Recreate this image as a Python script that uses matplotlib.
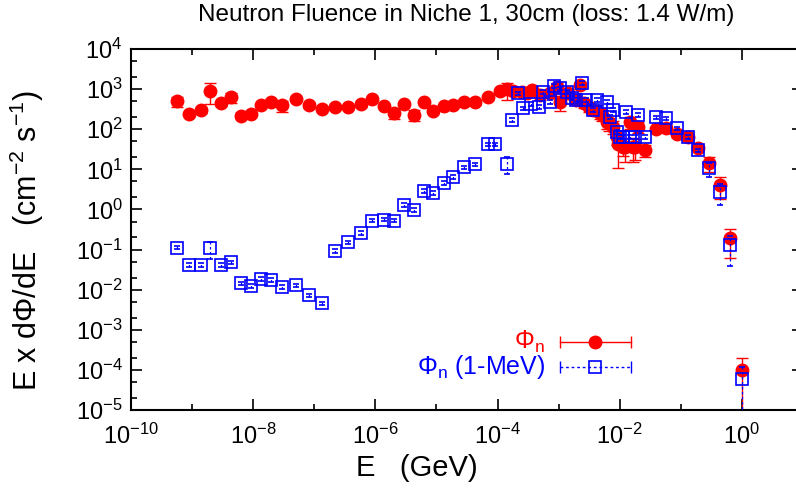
import numpy as np
import matplotlib
matplotlib.use("Agg")
import matplotlib.pyplot as plt
from matplotlib import ticker

plt.rcParams['font.family'] = ['Liberation Sans', 'DejaVu Sans']

# red: neutron fluence (E in GeV, E*dPhi/dE in cm^-2 s^-1)
red_E = [5.6e-10, 8.9e-10, 1.4e-9, 2.0e-9, 3.0e-9, 4.4e-9, 6.3e-9, 9.1e-9, 1.35e-8, 1.95e-8,
         3.0e-8, 5.0e-8, 8.3e-8, 1.35e-7, 2.2e-7, 3.6e-7, 5.8e-7, 8.9e-7, 1.38e-6, 2.0e-6,
         2.9e-6, 4.3e-6, 6.2e-6, 8.9e-6, 1.32e-5, 1.9e-5, 2.8e-5, 4.3e-5, 7.1e-5, 1.1e-4,
         1.45e-4, 1.8e-4, 2.5e-4, 3.0e-4, 3.6e-4, 5.0e-4, 7.2e-4, 9.3e-4, 1.05e-3, 1.4e-3,
         1.95e-3, 2.2e-3, 2.6e-3, 3.2e-3, 3.7e-3, 4.8e-3, 5.2e-3, 6.2e-3, 6.8e-3, 7.8e-3,
         8.9e-3, 9.5e-3, 1.15e-2, 1.2e-2, 1.48e-2, 1.66e-2, 1.78e-2, 2.0e-2, 2.6e-2, 3.9e-2,
         5.8e-2, 8.5e-2, 0.129, 0.19, 0.29, 0.44, 0.65, 1.0]
red_flux = [505, 239, 301, 912, 443, 624, 217, 239, 401, 485,
            395, 566, 395, 319, 351, 364, 418, 566, 385, 249,
            425, 226, 485, 289, 379, 401, 485, 469, 624, 897,
            989, 900, 861, 800, 950, 700, 785, 1148, 485, 800,
            535, 1259, 441, 364, 301, 249, 226, 154, 140, 116,
            65, 44, 37, 37, 154, 37, 37, 116, 30, 99,
            105, 76, 63, 34, 14.6, 4.1, 0.19, 1.0e-4]
red_err = [140, 30, 40, 480, 60, 180, 30, 30, 50, 60,
           120, 70, 50, 40, 45, 45, 55, 70, 50, 70,
           55, 67, 60, 40, 50, 50, 60, 60, 80, 120,
           460, 150, 150, 150, 180, 150, 150, 250, 195, 150,
           100, 250, 100, 90, 80, 70, 70, 50, 50, 40,
           25, 33, 15, 22, 50, 22, 20, 35, 10, 15,
           15, 12, 10, 6, 6, 2.3, 0.13, 1.0e-4]

# blue: 1-MeV equivalent neutron fluence
blue_E = [5.6e-10, 8.9e-10, 1.4e-9, 2.0e-9, 3.0e-9, 4.4e-9, 6.3e-9, 9.1e-9, 1.35e-8, 1.95e-8,
          3.0e-8, 5.0e-8, 8.3e-8, 1.35e-7, 2.2e-7, 3.6e-7, 5.8e-7, 8.9e-7, 1.38e-6, 2.0e-6,
          2.9e-6, 4.3e-6, 6.2e-6, 8.9e-6, 1.32e-5, 1.9e-5, 2.8e-5, 4.3e-5, 7.1e-5, 9.1e-5,
          1.45e-4, 1.74e-4, 2.2e-4, 2.6e-4, 3.5e-4, 4.7e-4, 5.6e-4, 7.2e-4, 8.3e-4, 1.05e-3,
          1.35e-3, 1.66e-3, 1.9e-3, 2.45e-3, 2.8e-3, 3.7e-3, 4.3e-3, 6.2e-3, 6.9e-3, 7.8e-3,
          8.9e-3, 1.02e-2, 1.15e-2, 1.29e-2, 1.48e-2, 1.78e-2, 2.0e-2, 2.6e-2, 3.9e-2, 5.8e-2,
          8.5e-2, 0.129, 0.19, 0.29, 0.44, 0.65, 1.0]
blue_flux = [0.111, 0.0418, 0.0418, 0.107, 0.0418, 0.048, 0.0144, 0.0125, 0.0184, 0.0177,
             0.0118, 0.0128, 0.0072, 0.00455, 0.0918, 0.151, 0.262, 0.523, 0.553, 0.523,
             1.31, 0.966, 2.88, 2.61, 4.64, 6.54, 11.2, 13.3, 42, 42,
             13.8, 170, 785, 331, 420, 364, 861, 485, 1194, 1047,
             861, 600, 535, 1446, 535, 301, 535, 485, 200, 301,
             87, 65, 65, 273, 65, 65, 225, 65, 198, 187,
             105, 65, 30, 10.6, 2.76, 0.129, 5.9e-5]
blue_err = [0.01, 0.004, 0.004, 0.05, 0.004, 0.005, 0.0015, 0.0012, 0.002, 0.002,
            0.0012, 0.0013, 0.0008, 0.0005, 0.01, 0.015, 0.03, 0.05, 0.05, 0.05,
            0.13, 0.1, 0.3, 0.26, 0.5, 0.7, 1.2, 1.4, 4, 4,
            6.2, 20, 80, 35, 45, 40, 90, 50, 120, 110,
            90, 60, 55, 150, 55, 30, 55, 50, 20, 30,
            9, 7, 7, 28, 7, 7, 23, 7, 20, 19,
            11, 7, 3, 4, 1.5, 0.09, 5.9e-5]

fig = plt.figure(figsize=(7.96, 4.93), dpi=100)
ax = fig.add_axes([131/796, 83/493, 672/796, 361/493])

red = '#ff0000'
blue = '#0000ff'

ax.errorbar(red_E, red_flux, yerr=red_err, fmt='o', color=red, ms=9,
            ecolor=red, elinewidth=1, capsize=4, capthick=1, zorder=2)
eb = ax.errorbar(blue_E, blue_flux, yerr=blue_err, fmt='s', mfc='none', mec=blue,
                 mew=1.2, ms=8, ecolor=blue, elinewidth=0.9, capsize=2.5, capthick=0.9,
                 zorder=3)
eb[2][0].set_linestyle((0, (2, 2)))

ax.set_xscale('log')
ax.set_yscale('log')
ax.set_xlim(1e-10, 1e1)
ax.set_ylim(1e-5, 1e4)

ax.xaxis.set_major_locator(ticker.FixedLocator([10.0**k for k in range(-10, 1, 2)]))
ax.xaxis.set_minor_locator(ticker.FixedLocator([10.0**k for k in range(-9, 2, 2)]))
ax.yaxis.set_major_locator(ticker.LogLocator(base=10, numticks=20))
ax.yaxis.set_minor_locator(ticker.LogLocator(base=10, subs=(2.0, 5.0), numticks=20))
fmt = ticker.FuncFormatter(lambda v, p: r'$\mathregular{10^{%d}}$' % round(np.log10(v)))
ax.xaxis.set_major_formatter(fmt)
ax.yaxis.set_major_formatter(fmt)
ax.xaxis.set_minor_formatter(ticker.NullFormatter())
ax.yaxis.set_minor_formatter(ticker.NullFormatter())

ax.tick_params(which='both', direction='in', top=True, right=True, labelsize=17, width=1.2)
ax.tick_params(which='major', length=8, pad=6)
ax.tick_params(axis='x', which='major', pad=10)
ax.tick_params(which='minor', length=4)
for s in ax.spines.values():
    s.set_linewidth(1.5)

ax.set_xlabel('E   (GeV)', fontsize=21)
ax.xaxis.set_label_coords((417 - 131) / 672, -0.122)
ax.set_ylabel(r'E x d$\mathregular{\Phi}$/dE   (cm$^{\mathregular{-2}}$ s$^{\mathregular{-1}}$)', fontsize=22)
ax.yaxis.set_label_coords(-0.127, 0.47)
fig.text(466/796, 1 - 15/493, 'Neutron Fluence in Niche 1, 30cm (loss: 1.4 W/m)',
         ha='center', va='center', fontsize=17.5)

# key
x0, x1, xc = 0.638, 0.744, 0.691
for yk, col, ls, mk, txt in [(0.188, red, '-', 'o', r'$\mathregular{\Phi_n}$'),
                             (0.119, blue, (0, (2, 2)), 's', r'$\mathregular{\Phi_n}$ (1-MeV)')]:
    ax.plot([x0, x1], [yk, yk], color=col, ls=ls, lw=1, transform=ax.transAxes)
    ax.plot([x0, x1], [yk, yk], ls='none', marker='|', ms=8, mew=1, color=col,
            transform=ax.transAxes)
    if mk == 'o':
        ax.plot([xc], [yk], marker='o', ms=9, color=col, transform=ax.transAxes)
    else:
        ax.plot([xc], [yk], marker='s', ms=8, mfc='none', mec=col, mew=1.2,
                transform=ax.transAxes)
    ax.text(0.616, yk, txt, color=col, ha='right', va='center', fontsize=18,
            transform=ax.transAxes)

fig.savefig('out.png', dpi=100)
